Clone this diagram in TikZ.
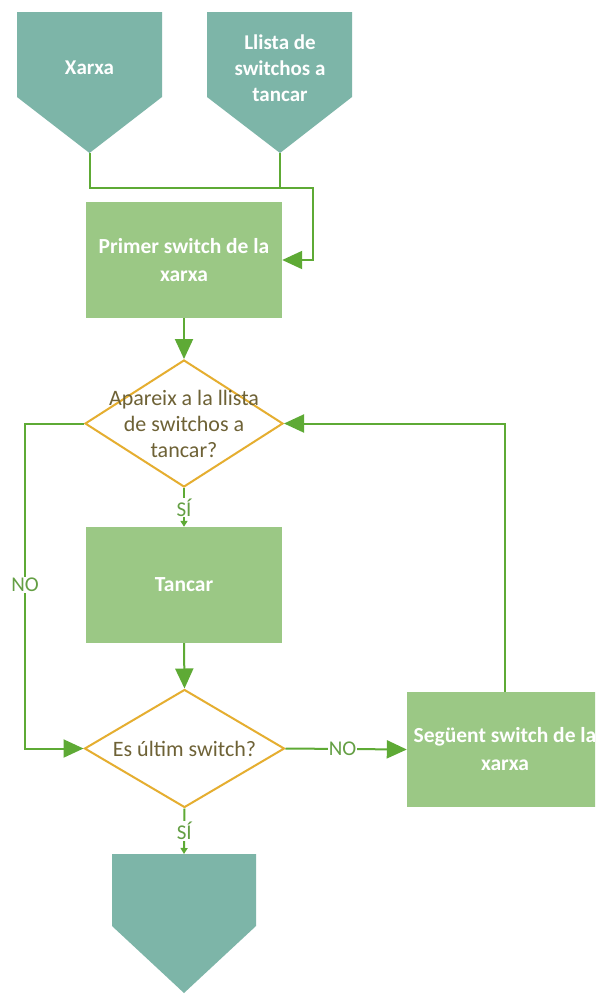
\documentclass[tikz,border=0pt]{standalone}
\usepackage{fontspec}
\setmainfont{Carlito}
\usetikzlibrary{arrows.meta,shapes.geometric}

\definecolor{tealfill}{HTML}{7DB5A8}
\definecolor{boxfill}{HTML}{9BC885}
\definecolor{flow}{HTML}{5EAA35}
\definecolor{gold}{HTML}{E5AE30}
\definecolor{qbrown}{HTML}{6E6236}
\definecolor{lblgreen}{HTML}{649F44}

\tikzset{
  procbox/.style={rectangle, fill=boxfill, minimum width=196pt, minimum height=116pt,
    inner sep=0pt, text=white, align=center, font=\bfseries\fontsize{21.5pt}{28pt}\selectfont},
  termtext/.style={text=white, align=center, inner sep=0pt,
    font=\bfseries\fontsize{21pt}{26pt}\selectfont},
  decision/.style={diamond, draw=gold, line width=2pt, fill=white, inner sep=0pt},
  qtext/.style={text=qbrown, align=center, inner sep=0pt,
    font=\fontsize{22pt}{26pt}\selectfont},
  link/.style={draw=flow, line width=2pt},
  arr/.style={link, -{Triangle[length=20pt,width=18pt]}},
  tinyarr/.style={link, -{Triangle[length=6pt,width=7pt]}},
  branch/.style={fill=white, text=lblgreen, inner sep=1pt,
    font=\fontsize{21pt}{24pt}\selectfont},
}

\begin{document}
\begin{tikzpicture}[x=1pt,y=-1pt]
\clip (0,0) rectangle (595,994);
\fill[white] (0,0) rectangle (595,994);

% input terminals (pentagons pointing down)
\fill[tealfill] (17,12) -- (162,12) -- (162,97) -- (89.5,153) -- (17,97) -- cycle;
\fill[tealfill] (207,12) -- (352,12) -- (352,97) -- (280,153) -- (207,97) -- cycle;
\node[termtext] (xarxa) at (89.5,68) {Xarxa};
\node[termtext] (llista) at (280,68) {Llista de\\switchos a\\tancar};
\coordinate (xtip) at (89.5,153);
\coordinate (ltip) at (280,153);
\coordinate (join) at (313,188);

% process boxes
\node[procbox] (primer) at (184,260) {Primer switch de la\\xarxa};
\node[procbox] (tancar) at (184,585) {Tancar};
\node[procbox, minimum height=115pt] (seguent) at (505,749.5) {Següent switch de la\\xarxa};

% decisions
\node[decision, minimum width=198pt, minimum height=127pt] (d1) at (184,423.5) {};
\node[qtext] (q1) at (d1) {Apareix a la llista\\de switchos a\\tancar?};
\node[decision, minimum width=200pt, minimum height=118pt] (d2) at (184.5,748.5) {};
\node[qtext] (q2) at (d2) {Es últim switch?};

% output terminal
\fill[tealfill] (112,854) -- (256,854) -- (256,926) -- (184,993) -- (112,926) -- cycle;
\coordinate (fin) at (184,854);

% connectors
\draw[arr] (xtip) |- (join) |- (primer.east);
\draw[link] (ltip) -- (ltip |- join);
\draw[arr] (primer.south) -- (d1.north);
\draw[tinyarr] (d1.south) -- node[branch] (si1) {SÍ} (tancar.north);
\draw[arr] (tancar.south) -- (d2.north);
\coordinate (lx) at (25,585);
\draw[arr] (d1.west) -| (lx) |- (d2.west);
\node[branch] (no1) at (lx) {NO};
\draw[arr] (d2.east) -- node[branch, pos=0.47] (no2) {NO} (seguent.west);
\draw[arr] (seguent.north) |- (d1.east);
\draw[tinyarr] (d2.south) -- node[branch] (si2) {SÍ} (fin);
\end{tikzpicture}
\end{document}
